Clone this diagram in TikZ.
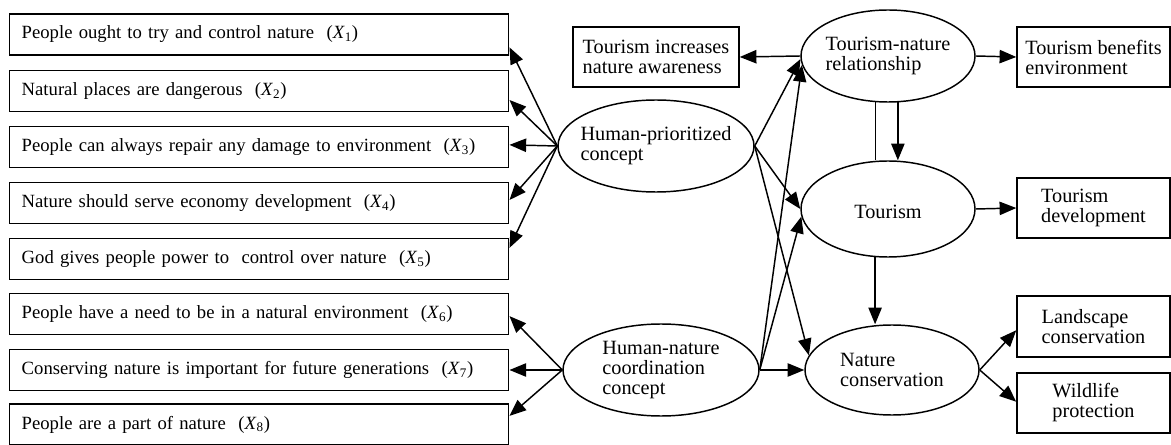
\documentclass[tikz,border=0pt]{standalone}
\usepackage{fontspec}
\setmainfont{Liberation Serif}
\usetikzlibrary{shapes.geometric,arrows.meta,calc}
\begin{document}
\begin{tikzpicture}[x=0.75pt,y=-0.75pt,
  every node/.style={font=\fontsize{14}{15}\selectfont},
  big/.style={font=\fontsize{15.2}{15}\selectfont},
  lbox/.style={draw, line width=1.1pt, anchor=west, minimum width=374.25pt, minimum height=31pt, text width=356.25pt, align=left, inner xsep=9pt, inner ysep=0pt},
  rbox/.style={draw, big, line width=1.1pt, align=left, inner sep=0pt, minimum width=114.75pt, minimum height=45pt},
  ell/.style={draw, ellipse, line width=1.1pt, inner sep=0pt},
  lbl/.style={big, align=left, inner sep=0pt},
  arr/.style={line width=1.1pt, -{Triangle[length=12.5pt,width=10pt]}},
  ln/.style={line width=1.1pt}]
\useasboundingbox (0,0) rectangle (1171,445);

% left boxes
\node[lbox] (b1) at (9,34.5) {People ought to try and control nature~ (\textit{X}\textsubscript{1})};
\node[lbox] (b2) at (9,91) {Natural places are dangerous~ (\textit{X}\textsubscript{2})};
\node[lbox] (b3) at (9,147) {People can always repair any damage to environment~ (\textit{X}\textsubscript{3})};
\node[lbox] (b4) at (9,203) {Nature should serve economy development~ (\textit{X}\textsubscript{4})};
\node[lbox] (b5) at (9,259) {God gives people power to~ control over nature~ (\textit{X}\textsubscript{5})};
\node[lbox] (b6) at (9,314) {People have a need to be in a natural environment~ (\textit{X}\textsubscript{6})};
\node[lbox] (b7) at (9,370) {Conserving nature is important for future generations~ (\textit{X}\textsubscript{7})};
\node[lbox] (b8) at (9,424.5) {People are a part of nature~ (\textit{X}\textsubscript{8})};

% ellipses
\node[ell, minimum width=147pt, minimum height=69pt] (hp) at (656,146) {};
\node[lbl] at (hp.center) {Human-prioritized\\concept};
\node[ell, minimum width=147pt, minimum height=69pt] (hn) at (661,370) {};
\node[lbl] at (hn.center) {Human-nature\\coordination\\concept};
\node[ell, minimum width=130.5pt, minimum height=69pt] (tn) at (888,56) {};
\node[lbl] at (tn.center) {Tourism-nature\\relationship};
\node[ell, minimum width=130.5pt, minimum height=72pt] (tou) at (888,209) {};
\node[lbl] at ($(tou.center)+(0,3)$) {Tourism};
\node[ell, minimum width=130.5pt, minimum height=67.5pt] (nc) at (892,370) {};
\node[lbl] at (nc.center) {Nature\\conservation};

% right boxes
\node[rbox, minimum width=124.5pt] (ti) at (656,57) {Tourism increases\\nature awareness};
\node[rbox] (tb) at (1093.5,57) {Tourism benefits\\environment};
\node[rbox] (td) at (1093.5,208) {Tourism\\development};
\node[rbox, minimum height=45.75pt] (lc) at (1093.5,326.5) {Landscape\\conservation};
\node[rbox] (wp) at (1093.5,403) {Wildlife\\protection};

% connectors to indicator boxes
\draw[arr] (hp.west) -- ($(b1.south east)!0.2!(b1.north east)$);
\draw[arr] (hp.west) -- ($(b2.south east)!0.29!(b2.north east)$);
\draw[arr] (hp.west) -- ($(b3.south east)!0.55!(b3.north east)$);
\draw[arr] (hp.west) -- ($(b4.south east)!0.57!(b4.north east)$);
\draw[arr] (hp.west) -- ($(b5.south east)!0.76!(b5.north east)$);
\draw[arr] (hn.west) -- ($(b6.south east)!0.45!(b6.north east)$);
\draw[arr] (hn.west) -- (b7.east);
\draw[arr] (hn.west) -- ($(b8.south east)!0.7!(b8.north east)$);

% structural paths
\draw[arr] (hp.east) -- (tn.182);
\draw[arr] (hp.east) -- (tou.west);
\draw[arr] (hp.east) -- (nc.170);
\draw[arr] (hn.east) -- (tn.186);
\draw[arr] (hn.east) -- (tou.185);
\draw[arr] (hn.east) -- (nc.west);
\draw[arr] (tn.west) -- (ti.east);
\draw[arr] (tn.east) -- (tb.west);
\draw[arr] (tou.east) -- (td.west);
\draw[ln] (tn.255) -- (tn.255 |- tou.north);
\draw[arr] (tn.282) -- (tn.282 |- tou.north);
\draw[arr] (tou.255) -- (tou.255 |- nc.north);
\draw[arr] (nc.east) -- ($(lc.south west)!0.44!(lc.north west)$);
\draw[arr] (nc.east) -- ($(wp.south west)!0.52!(wp.north west)$);
\end{tikzpicture}
\end{document}
